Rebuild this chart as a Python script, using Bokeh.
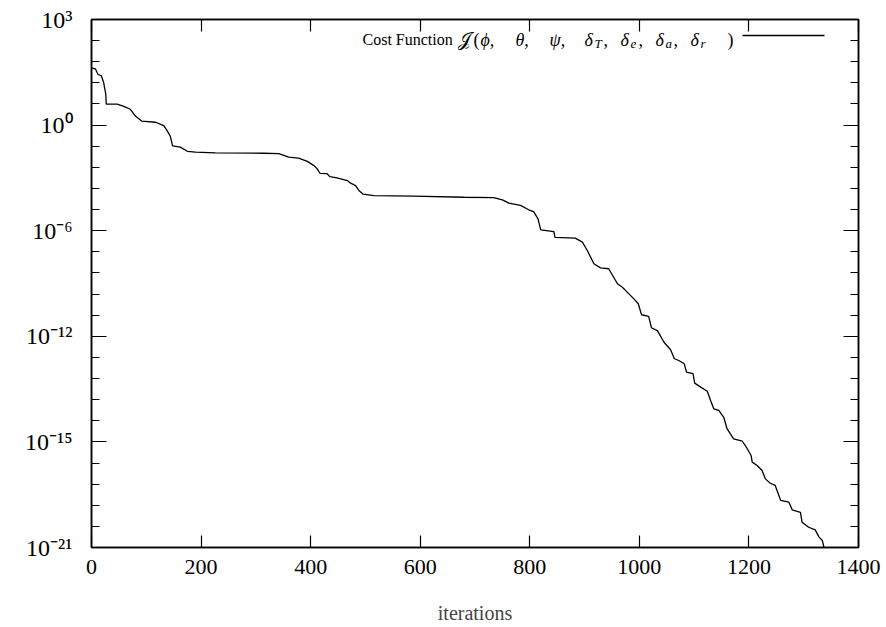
import numpy as np
from bokeh.plotting import figure
from bokeh.models import (FixedTicker, CustomJSTickFormatter, LogAxis, LinearAxis,
                          Label, Arrow, ColumnDataSource, Range1d)
from bokeh.embed import file_html
from bokeh.resources import INLINE

# ---- data (iteration, log10 of cost) ----
iterations = [0, 7, 12, 18, 22, 26, 27, 47, 59, 71, 79, 92, 117, 132, 138, 144, 148, 162,
              175, 190, 226, 314, 342, 360, 378, 394, 406, 412, 417, 430, 435, 448, 467,
              473, 482, 488, 496, 515, 588, 680, 734, 750, 762, 783, 798, 807, 815, 820,
              844, 846, 883, 896, 905, 917, 929, 944, 960, 969, 981, 990, 998, 1004, 1017,
              1022, 1033, 1045, 1057, 1064, 1072, 1082, 1086, 1098, 1101, 1112, 1124, 1130,
              1136, 1145, 1154, 1160, 1172, 1188, 1197, 1204, 1206, 1215, 1224, 1230, 1239,
              1248, 1258, 1273, 1279, 1294, 1297, 1309, 1321, 1328, 1334, 1337, 1340]
cost_log10 = [0.80, 0.76, 0.50, 0.44, 0.15, -0.38, -0.84, -0.85, -0.95, -1.08, -1.36, -1.62,
              -1.67, -1.82, -2.05, -2.32, -2.74, -2.80, -2.99, -3.03, -3.06, -3.08, -3.10,
              -3.26, -3.30, -3.45, -3.64, -3.79, -3.99, -4.01, -4.14, -4.20, -4.32, -4.44,
              -4.55, -4.77, -4.94, -5.01, -5.03, -5.08, -5.10, -5.20, -5.35, -5.45, -5.65,
              -5.73, -6.06, -6.56, -6.64, -6.90, -6.94, -7.12, -7.50, -8.10, -8.29, -8.33,
              -9.01, -9.17, -9.47, -9.70, -9.92, -10.42, -10.49, -11.01, -11.14, -11.67,
              -12.01, -12.42, -12.50, -12.65, -13.03, -13.10, -13.53, -13.71, -13.90, -14.32,
              -14.70, -14.77, -15.08, -15.60, -16.06, -16.17, -16.51, -16.82, -17.12, -17.27,
              -17.50, -17.88, -18.08, -18.18, -18.86, -18.94, -19.29, -19.40, -19.85, -20.08,
              -20.20, -20.53, -20.68, -21.00, -21.40]
cost = [10 ** v for v in cost_log10]

x_ticks = [0, 200, 400, 600, 800, 1000, 1200, 1400]
y_tick_exp = [3, -1.8, -6.6, -11.4, -16.2, -21]
y_tick_labels = ["10³", "10⁰", "10⁻⁶", "10⁻¹²", "10⁻¹⁵", "10⁻²¹"]
y_minor_exp = [3 - 0.96 * k for k in range(26)]

FONT = "Liberation Serif"
FRAME_LEFT, FRAME_BOTTOM = 91, 547   # page pixels of the plot frame corner

p = figure(width=886, height=627, y_axis_type="log",
           x_range=Range1d(0, 1400), y_range=Range1d(1e-21, 1e3),
           output_backend="svg", toolbar_location=None,
           min_border_left=91, min_border_right=28, min_border_top=19, min_border_bottom=80)
p.xgrid.visible = False
p.ygrid.visible = False
p.outline_line_color = "black"
p.outline_line_width = 1.5
p.background_fill_color = "white"
p.border_fill_color = "white"

src = ColumnDataSource(dict(x=iterations, y=cost))
p.line("x", "y", source=src, line_color="black", line_width=1.3)

yticker = FixedTicker(ticks=[10 ** e for e in y_tick_exp], minor_ticks=[10 ** e for e in y_minor_exp])
xticker = FixedTicker(ticks=x_ticks, minor_ticks=[])
yfmt = CustomJSTickFormatter(args=dict(exps=y_tick_exp, labels=y_tick_labels), code="""
const e = Math.log10(tick);
let best = 0, bd = 1e9;
for (let i = 0; i < exps.length; i++) { const d = Math.abs(exps[i] - e); if (d < bd) { bd = d; best = i; } }
return labels[best];
""")
blank = CustomJSTickFormatter(code="return '';")

def style(ax, major_in, minor_in, show, size="21px"):
    ax.major_tick_in = major_in
    ax.major_tick_out = 0
    ax.minor_tick_in = minor_in
    ax.minor_tick_out = 0
    ax.axis_line_color = "black"
    ax.axis_line_width = 1.5
    ax.major_tick_line_color = "black"
    ax.minor_tick_line_color = "black"
    ax.major_tick_line_width = 1.2
    ax.minor_tick_line_width = 1.2
    ax.major_label_text_font = FONT
    ax.major_label_text_color = "black"
    ax.major_label_text_font_size = size
    if not show:
        ax.major_label_standoff = 0

yl = p.yaxis[0]
yl.ticker = yticker
yl.formatter = yfmt
style(yl, 15, 8, True, "24px")
yl.major_label_standoff = 19

xb = p.xaxis[0]
xb.ticker = xticker
style(xb, 12, 0, True, "22px")
xb.major_label_standoff = 12
xb.axis_label = "iterations"
xb.axis_label_text_font = FONT
xb.axis_label_text_font_style = "normal"
xb.axis_label_text_font_size = "20px"
xb.axis_label_text_line_height = 1.0
xb.axis_label_standoff = 25

yr = LogAxis(ticker=yticker, formatter=blank)
style(yr, 15, 8, False)
p.add_layout(yr, "right")
xt = LinearAxis(ticker=xticker, formatter=blank)
style(xt, 12, 0, False)
p.add_layout(xt, "above")

# ---- legend (text left of the line sample, as in the reference) ----
# positions are page pixels; converted to frame-relative screen units
base = 39
pieces = [
    ("Cost Function", 362, 0, "normal", 16),
    ("𝒥", 457, 0, "normal", 19),
    ("(", 473, 0, "normal", 18),
    ("ϕ,", 480, 0, "italic", 18),
    ("θ,", 515, 0, "italic", 18),
    ("ψ,", 549, 0, "italic", 18),
    ("δ", 584, 0, "italic", 18), ("T", 594, 4, "italic", 13), (",", 603, 0, "normal", 18),
    ("δ", 620, 0, "italic", 18), ("e", 630, 4, "italic", 13), (",", 638, 0, "normal", 18),
    ("δ", 655, 0, "italic", 18), ("a", 665, 4, "italic", 13), (",", 673, 0, "normal", 18),
    ("δ", 690, 0, "italic", 18), ("r", 700, 4, "italic", 13),
    (")", 727, 0, "normal", 18),
]
for txt, x, dy, st, fs in pieces:
    p.add_layout(Label(x=x - FRAME_LEFT, y=FRAME_BOTTOM - (base + dy),
                       x_units="screen", y_units="screen", text=txt,
                       text_font=FONT, text_font_style=st, text_font_size=f"{fs}px",
                       text_color="black", text_baseline="alphabetic", text_align="left"))
p.add_layout(Arrow(start=None, end=None,
                   x_start=742 - FRAME_LEFT, y_start=FRAME_BOTTOM - 35,
                   x_end=824 - FRAME_LEFT, y_end=FRAME_BOTTOM - 35,
                   start_units="screen", end_units="screen", line_color="black", line_width=1.3))

open("out.html", "w").write(file_html(p, INLINE))
